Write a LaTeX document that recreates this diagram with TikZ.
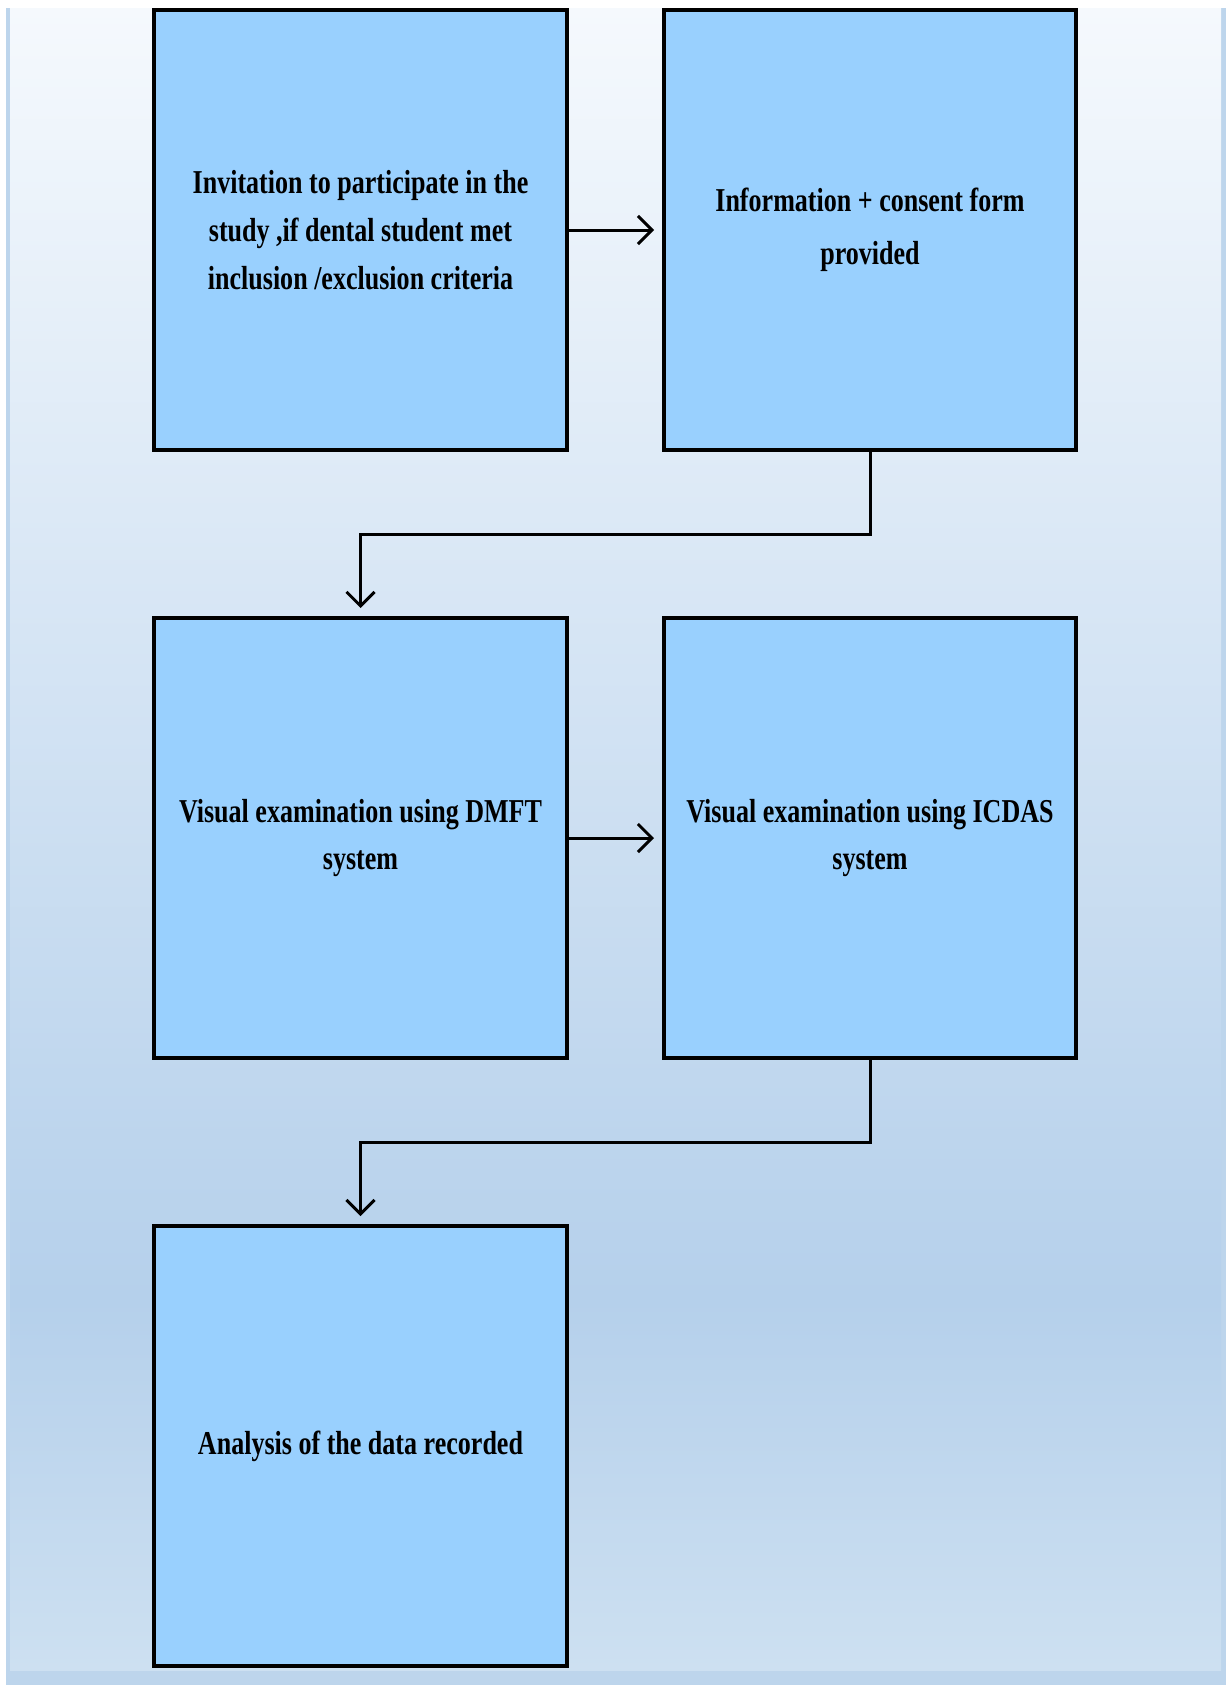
\documentclass[tikz,border=0pt]{standalone}
\usepackage{fontspec}
\newfontfamily\stageFont{Liberation Serif}[FakeStretch=0.78]
\usepackage{tikz}
\usetikzlibrary{calc}
\usetikzlibrary{arrows.meta}
\usepackage{xcolor}
\definecolor{stageBlue}{RGB}{153, 208, 254}
\definecolor{frameBlue}{RGB}{189, 213, 236}
\definecolor{paleTop}{RGB}{245, 249, 253}
\definecolor{paleMid}{RGB}{181, 208, 235}
\definecolor{paleLow}{RGB}{205, 224, 241}
\tikzset{
    stageBox/.style={draw=black, line width=0.8mm, fill=stageBlue,
        minimum width=82.4mm, minimum height=88mm, inner sep=0pt, align=center,
        font=\stageFont\bfseries\fontsize{19}{27.3}\selectfont},
    flowArrow/.style={line width=0.6mm, shorten >=1.6mm,
        -{Straight Barb[length=2.8mm, width=5.6mm]}}
}

\begin{document}
\begin{tikzpicture}[x=0.2mm, y=-0.2mm]
        \useasboundingbox (0,0) rectangle (1226,1685);

        % page background
        \fill[white] (0,0) rectangle (1226,1685);
        \fill[frameBlue] (6,8) rectangle (1226,1685);
        \shade[top color=paleTop, bottom color=paleMid] (10,8) rectangle (1221,1300);
        \shade[top color=paleMid, bottom color=paleLow] (10,1300) rectangle (1221,1670);

        \node[stageBox] (invite) at (360.5,230) {Invitation to participate in the\\study ,if dental student met\\inclusion /exclusion criteria};
        \node[stageBox] (consent) at (870,230) {Information + consent form\\[1mm]provided};

        \node[stageBox] (dmft) at (360.5,838) {Visual examination using DMFT\\system};
        \node[stageBox] (icdas) at (870,838) {Visual examination using ICDAS\\system};

        \node[stageBox] (analysis) at (360.5,1446) {Analysis of the data recorded};

        \draw[flowArrow] (invite) -- (consent);
        \draw[flowArrow] (consent.south) |- ($(consent.south)!0.5!(dmft.north)$) -| (dmft.north);
        \draw[flowArrow] (dmft) -- (icdas);
        \draw[flowArrow] (icdas.south) |- ($(icdas.south)!0.5!(analysis.north)$) -| (analysis.north);
    \end{tikzpicture}
\end{document}
